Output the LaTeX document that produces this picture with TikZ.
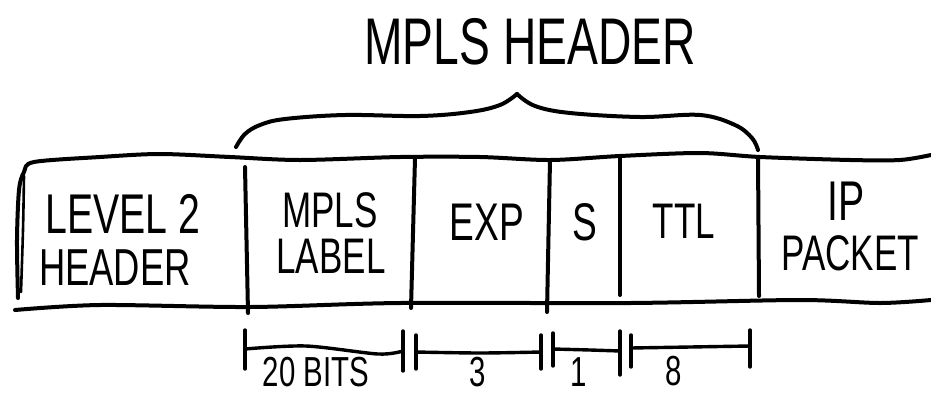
\documentclass[tikz,border=0pt]{standalone}
\usepackage{fontspec}
\newfontfamily\hand[FakeStretch=0.7]{Liberation Sans}
\begin{document}
\begin{tikzpicture}[x=1pt,y=-1pt,
  ink/.style={line width=4pt,line cap=round,line join=round},
  tick/.style={line width=3.4pt,line cap=round},
  lbl/.style={anchor=base,inner sep=0pt,text depth=0pt,font=\hand\fontsize{#1}{#1}\selectfont},
  lbl/.default=52]
\useasboundingbox (0,0) rectangle (931,397);

% title and brace
\node[lbl=66] (title) at (530,64) {MPLS HEADER};
\draw[ink] plot[smooth,tension=0.6] coordinates
  {(236,147) (245,134) (260,125) (285,119) (345,115) (420,116) (470,112) (500,105) (517,94)};
\draw[ink] plot[smooth,tension=0.6] coordinates
  {(517,94) (535,106) (570,113) (640,117) (700,115) (735,125) (752,138) (758,150)};

% outline of the packet strip
\draw[ink] plot[smooth,tension=0.5] coordinates
  {(18,298) (17,240) (19,190) (24,172) (34,162) (100,157) (160,154) (230,157)
   (300,160) (400,157) (480,157) (550,160) (620,156) (700,153) (760,157)
   (850,160) (900,160) (931,155)};
\draw[ink,line width=2.6pt] plot[smooth,tension=0.5] coordinates
  {(24,176) (23,230) (21,292)};
\draw[ink] plot[smooth,tension=0.5] coordinates
  {(15,310) (100,305) (250,307) (400,303) (630,303) (800,300) (880,303) (931,300)};

% field dividers
\draw[ink] (245,167) -- (248,313);
\draw[ink] (415,158) -- (411,308);
\draw[ink] (550,160) -- (547,312);
\draw[ink] (620,156) -- (620,295);
\draw[ink] (758,157) -- (759,296);

% field names
\node[lbl=56] (l2a) at (123,233) {LEVEL 2};
\node[lbl=52] (l2b) at (115,285) {HEADER};
\node[lbl=50] (mla) at (330,227) {MPLS};
\node[lbl=50] (mlb) at (331,273) {LABEL};
\node[lbl=53] (exp) at (487,240) {EXP};
\node[lbl=53] (sb)  at (585,240) {S};
\node[lbl=50] (ttl) at (684,238) {TTL};
\node[lbl=56] (ipa) at (846,220) {IP};
\node[lbl=50] (ipb) at (850,270) {PACKET};

% bit widths
\draw[tick] (245,330) -- (245,369);
\draw[tick] (403,331) -- (403,371);
\draw[tick] (416,335) -- (416,369);
\draw[tick] (541,335) -- (541,369);
\draw[tick] (553,333) -- (553,366);
\draw[tick] (620,331) -- (620,375);
\draw[tick] (631,335) -- (631,367);
\draw[tick] (750,330) -- (750,367);
\draw[tick] plot[smooth,tension=0.5] coordinates {(245,349) (306,346) (378,354) (403,351)};
\draw[tick] plot[smooth,tension=0.5] coordinates {(416,352) (480,353) (541,352)};
\draw[tick] plot[smooth,tension=0.5] coordinates {(553,349) (590,350) (620,351)};
\draw[tick] plot[smooth,tension=0.5] coordinates {(631,348) (690,347) (750,346)};

\node[lbl=42] (b20) at (316,386) {20 BITS};
\node[lbl=42] (b3)  at (478,386) {3};
\node[lbl=42] (b1)  at (579,386) {1};
\node[lbl=42] (b8)  at (674,385) {8};
\end{tikzpicture}
\end{document}
